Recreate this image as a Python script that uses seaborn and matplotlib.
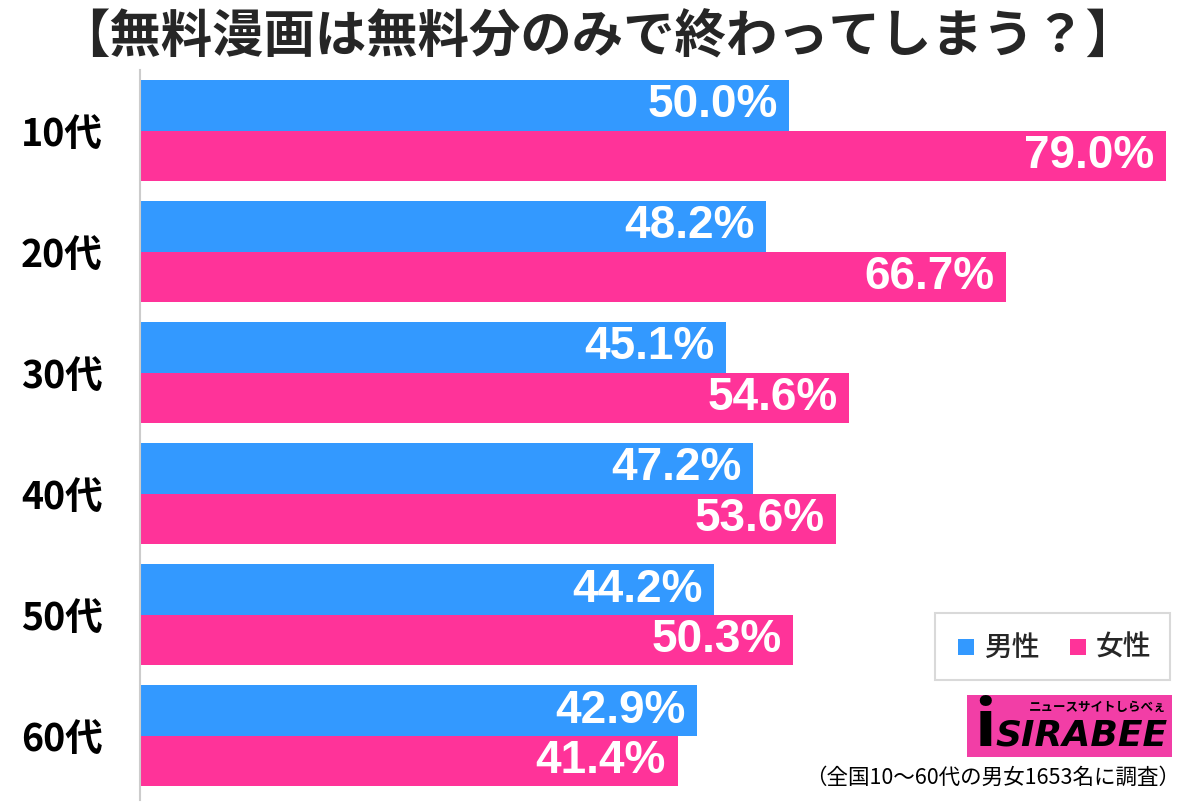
import pandas as pd
import seaborn as sns
import matplotlib.pyplot as plt
from matplotlib.patches import Rectangle

sns.set_style('white')
plt.rcParams['font.family'] = ['Noto Sans CJK JP', 'DejaVu Sans']

ages = ['10代', '20代', '30代', '40代', '50代', '60代']
male = [50.0, 48.2, 45.1, 47.2, 44.2, 42.9]
female = [79.0, 66.7, 54.6, 53.6, 50.3, 41.4]
groups = ['男性', '女性']
colors = ['#3399FF', '#FF3399']

title = '【無料漫画は無料分のみで終わってしまう？】'
note = '（全国10〜60代の男女1653名に調査）'

df = pd.DataFrame({
    'age': ages * 2,
    'value': male + female,
    'sex': [groups[0]] * len(ages) + [groups[1]] * len(ages),
})

fig = plt.figure(figsize=(12, 8.08), dpi=100)
ax = fig.add_axes([140 / 1200, 8 / 808, 1026 / 1200, 730 / 808])

sns.barplot(data=df, y='age', x='value', hue='sex', orient='h',
            palette=colors, width=0.835, saturation=1, ax=ax,
            legend=False, linewidth=0)

ax.set_xlim(0, 79)
ax.set_ylim(5.53, -0.5)
ax.set_xlabel('')
ax.set_ylabel('')
ax.set_xticks([])
for s in ['top', 'right', 'bottom']:
    ax.spines[s].set_visible(False)
ax.spines['left'].set_color('#cccccc')
ax.spines['left'].set_linewidth(1.5)
ax.tick_params(axis='y', length=0, pad=27)
for lab in ax.get_yticklabels():
    lab.set_fontsize(27)
    lab.set_fontweight('bold')
    lab.set_color('black')

# value labels inside the bars
for cont in ax.containers:
    for bar in cont:
        w = bar.get_width()
        ax.text(w - 0.9, bar.get_y() + bar.get_height() / 2, f'{w:.1f}%',
                ha='right', va='center', color='white', fontsize=33,
                fontweight='bold', family='Liberation Sans')

fig.text(0.498, 1 - 37 / 808, title, ha='center', va='center',
         fontsize=37, fontweight='bold')

# legend box
fig.patches.append(Rectangle((935 / 1200, 1 - 680 / 808), 235 / 1200,
                             67 / 808, transform=fig.transFigure,
                             facecolor='white', edgecolor='#d9d9d9',
                             linewidth=1.5))
leg_x = [958, 1070]
for i, g in enumerate(groups):
    fig.patches.append(Rectangle((leg_x[i] / 1200, 1 - 655 / 808),
                                 16 / 1200, 16 / 808,
                                 transform=fig.transFigure,
                                 facecolor=colors[i], edgecolor='none'))
    fig.text((leg_x[i] + 26) / 1200, 1 - 647 / 808, g, ha='left',
             va='center', fontsize=20, fontweight='medium')

# logo
fig.patches.append(Rectangle((967 / 1200, 1 - 757 / 808), 205 / 1200,
                             62 / 808, transform=fig.transFigure,
                             facecolor='#F23EA6', edgecolor='none'))
fig.text(1168 / 1200, 1 - 735 / 808, 'SIRABEE', ha='right', va='center',
         fontsize=26, fontweight='heavy', style='italic',
         family='DejaVu Sans', color='black')
fig.text(1166 / 1200, 1 - 707 / 808, 'ニュースサイトしらべぇ', ha='right',
         va='center', fontsize=9, fontweight='bold', color='black')
fig.text(985 / 1200, 1 - 728 / 808, 'i', ha='center', va='center',
         fontsize=44, fontweight='heavy', color='black')

fig.text(1180 / 1200, 1 - 778 / 808, note, ha='right', va='center',
         fontsize=15.5, color='black')

fig.savefig('out.png', dpi=100)
